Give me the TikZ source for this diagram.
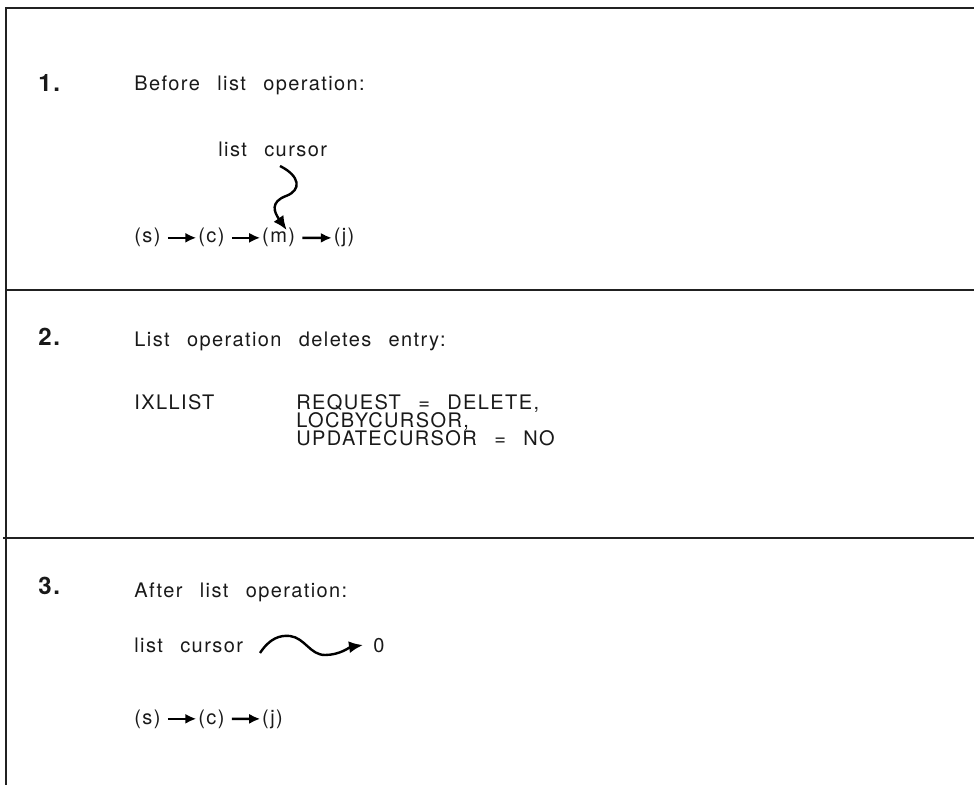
\documentclass[tikz,border=0pt]{standalone}
\usepackage{fontspec}
\setmainfont{TeX Gyre Heros}[LetterSpace=7,WordSpace=2.5]
\usetikzlibrary{arrows.meta,positioning}
\definecolor{FrameClr}{rgb}{0.13,0.13,0.13}
\definecolor{TextClr}{rgb}{0.1,0.1,0.1}

\tikzset{
  StepNum/.style={font=\fontsize{12}{14}\selectfont\bfseries,anchor=base west,inner sep=0pt,text=TextClr},
  StepTxt/.style={font=\fontsize{10}{8}\selectfont,anchor=base west,inner sep=0pt,text=TextClr},
  ListItem/.style={font=\fontsize{10}{8}\selectfont,inner sep=0pt,text=TextClr},
  LinkArr/.style={-{Latex[length=5.5pt,width=5pt]},line width=1.25pt,shorten <=3.5pt,shorten >=0.8pt},
  CursorArr/.style={-{Latex[length=7pt,width=6pt]},line width=1.2pt},
  FrameLine/.style={line width=1.1pt,color=FrameClr}
}

\begin{document}
\begin{tikzpicture}[x=0.5pt,y=-0.5pt]
\useasboundingbox (0,0) rectangle (974,785);

% frame
\draw[FrameLine] (974,8) -- (6,8) -- (6,785);
\draw[FrameLine] (6,290) -- (974,290);
\draw[FrameLine] (3,538) -- (974,538);

% step 1
\node[StepNum] (num1) at (38,92) {1.};
\node[StepTxt] (head1) at (134,91) {Before list operation:};
\node[StepTxt] (cursor1) at (218,157) {list cursor};
\node[ListItem,anchor=base west] (s1) at (134,243) {(s)};
\node[ListItem,base right=18.5pt of s1] (c1) {(c)};
\node[ListItem,base right=18.5pt of c1] (m1) {(m)};
\node[ListItem,base right=19pt of m1] (j1) {(j)};
\draw[LinkArr] (s1) -- (c1);
\draw[LinkArr] (c1) -- (m1);
\draw[LinkArr] (m1) -- (j1);
\coordinate (wave1) at (280,166);
\draw[CursorArr] (wave1) .. controls (300,176) and (302,190) .. (286,196)
  .. controls (270,202) and (274,212) .. ([xshift=4pt,yshift=-1pt]m1.north);

% step 2
\node[StepNum] (num2) at (38,346) {2.};
\node[StepTxt] (head2) at (134,347) {List operation deletes entry:};
\node[StepTxt] (macro2) at (134,410) {IXLLIST};
\node[StepTxt] (parmA) at (296,410) {REQUEST = DELETE,};
\node[StepTxt] (parmB) at (296,428) {LOCBYCURSOR,};
\node[StepTxt] (parmC) at (296,446) {UPDATECURSOR = NO};

% step 3
\node[StepNum] (num3) at (38,595) {3.};
\node[StepTxt] (head3) at (134,597) {After list operation:};
\node[StepTxt] (cursor3) at (134,652) {list cursor};
\node[StepTxt] (zero3) at (373,652) {0};
\coordinate (arc3) at (260,653);
\draw[CursorArr] (arc3) .. controls (270,638) and (280,635) .. (290,636)
  .. controls (305,638) and (310,655) .. (325,655)
  .. controls (340,655) and (350,647) .. ([xshift=-5pt]zero3.west);
\node[ListItem,anchor=base west] (s3) at (134,724) {(s)};
\node[ListItem,base right=18.5pt of s3] (c3) {(c)};
\node[ListItem,base right=18.5pt of c3] (j3) {(j)};
\draw[LinkArr] (s3) -- (c3);
\draw[LinkArr] (c3) -- (j3);

\end{tikzpicture}
\end{document}
